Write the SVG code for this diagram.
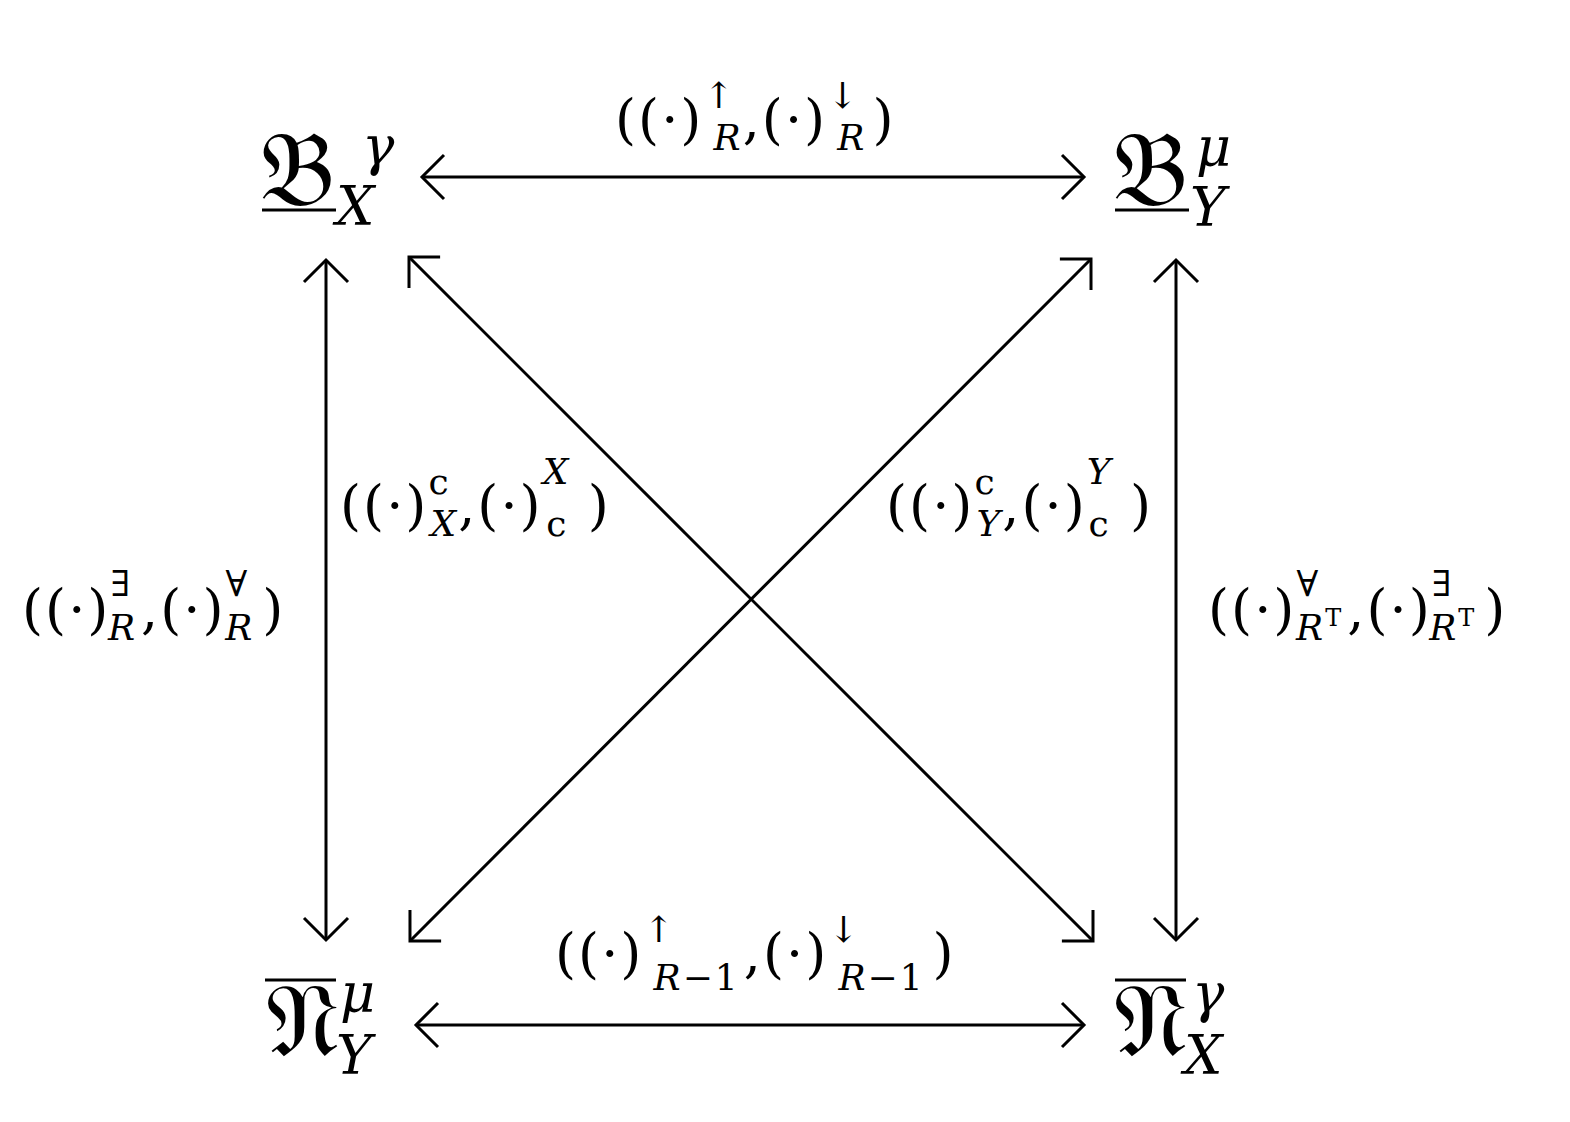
<svg xmlns="http://www.w3.org/2000/svg" width="1570" height="1122" viewBox="0 0 1570 1122">
<style>
.l{font-family:"DejaVu Serif","Liberation Serif",serif;font-size:54px;fill:#000;letter-spacing:2px}
.n{font-family:"DejaVu Serif","Noto Sans","Liberation Serif",serif;font-size:104px;fill:#000}
.i{font-style:italic}
.s{font-size:36px}
.t{font-size:24px}
line{stroke:#000;stroke-width:3}
</style>
<defs><marker id="a" viewBox="-24 -24 30 48" markerWidth="30" markerHeight="48" refX="0" refY="0" orient="auto-start-reverse" markerUnits="userSpaceOnUse"><path d="M-22,-22 L0,0 L-22,22" fill="none" stroke="#000" stroke-width="3"/></marker></defs>
<rect width="1570" height="1122" fill="#fff"/>
<g id="edges">
<line x1="422" y1="177" x2="1084" y2="177" marker-start="url(#a)" marker-end="url(#a)"/>
<line x1="416" y1="1025" x2="1084" y2="1025" marker-start="url(#a)" marker-end="url(#a)"/>
<line x1="326" y1="260" x2="326" y2="940" marker-start="url(#a)" marker-end="url(#a)"/>
<line x1="1176" y1="260" x2="1176" y2="940" marker-start="url(#a)" marker-end="url(#a)"/>
<line x1="409" y1="257" x2="1093" y2="941" marker-start="url(#a)" marker-end="url(#a)"/>
<line x1="1091" y1="259" x2="410" y2="941" marker-start="url(#a)" marker-end="url(#a)"/>
</g>
<g id="BX"><text class="n" x="260" y="205">𝔅</text><line x1="262" y1="210" x2="336" y2="210"/><text class="l i" x="336" y="225" font-size="54">X</text><text class="l i" x="362" y="165" font-size="42">γ</text></g>
<g id="BY"><text class="n" x="1113" y="205">𝔅</text><line x1="1115" y1="210" x2="1189" y2="210"/><text class="l i" x="1190" y="226" font-size="54">Y</text><text class="l i" x="1196" y="166" font-size="42">μ</text></g>
<g id="NY"><text class="n" x="266" y="1056">𝔑</text><line x1="265" y1="980" x2="336" y2="980"/><text class="l i" x="336" y="1074" font-size="54">Y</text><text class="l i" x="340" y="1012" font-size="42">μ</text></g>
<g id="NX"><text class="n" x="1114" y="1056">𝔑</text><line x1="1115" y1="980" x2="1186" y2="980"/><text class="l i" x="1184" y="1074" font-size="54">X</text><text class="l i" x="1192" y="1012" font-size="42">γ</text></g>
<g id="labels">
<text class="l" x="615" y="138">((·)<tspan class="s" dy="-30">↑</tspan><tspan class="s i" dx="-22" dy="42">R</tspan><tspan dy="-12">,(·)</tspan><tspan class="s" dy="-30">↓</tspan><tspan class="s i" dx="-22" dy="42">R</tspan><tspan dy="-12" dx="6">)</tspan></text>
<text class="l" x="555" y="972">((·)<tspan class="s" dy="-30">↑</tspan><tspan class="s i" dx="-22" dy="48">R</tspan><tspan class="s">−1</tspan><tspan dy="-18" dx="4">,(·)</tspan><tspan class="s" dy="-30">↓</tspan><tspan class="s i" dx="-22" dy="48">R</tspan><tspan class="s">−1</tspan><tspan dy="-18" dx="8">)</tspan></text>
<text class="l" x="22" y="628">((·)<tspan class="s" dy="-32">∃</tspan><tspan class="s i" dx="-24" dy="44">R</tspan><tspan dy="-12" dx="4">,(·)</tspan><tspan class="s" dy="-32">∀</tspan><tspan class="s i" dx="-24" dy="44">R</tspan><tspan dy="-12" dx="8">)</tspan></text>
<text class="l" x="1208" y="628">((·)<tspan class="s" dy="-32">∀</tspan><tspan class="s i" dx="-24" dy="44">R</tspan><tspan class="t" dy="-14">T</tspan><tspan dy="2" dx="4">,(·)</tspan><tspan class="s" dy="-32">∃</tspan><tspan class="s i" dx="-24" dy="44">R</tspan><tspan class="t" dy="-14">T</tspan><tspan dy="2" dx="8">)</tspan></text>
<text class="l" x="340" y="524">((·)<tspan class="s" dy="-30">c</tspan><tspan class="s i" dx="-20" dy="42">X</tspan><tspan dy="-12">,(·)</tspan><tspan class="s i" dy="-40">X</tspan><tspan class="s" dx="-24" dy="52">c</tspan><tspan dy="-12"> )</tspan></text>
<text class="l" x="886" y="524">((·)<tspan class="s" dy="-30">c</tspan><tspan class="s i" dx="-20" dy="42">Y</tspan><tspan dy="-12">,(·)</tspan><tspan class="s i" dy="-40">Y</tspan><tspan class="s" dx="-24" dy="52">c</tspan><tspan dy="-12"> )</tspan></text>
</g>
</svg>
